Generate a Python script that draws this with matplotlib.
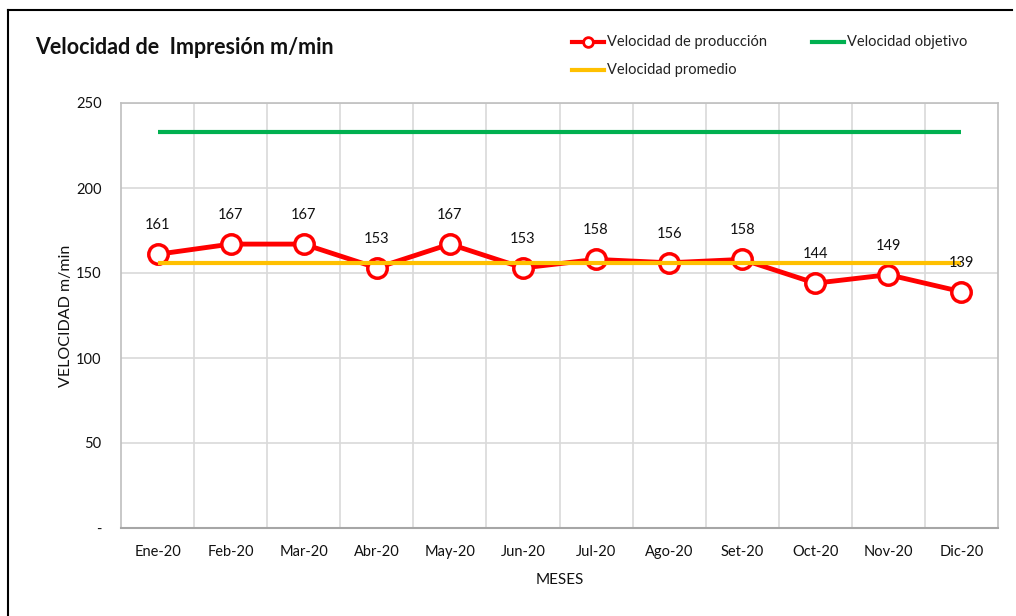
import matplotlib
matplotlib.use("Agg")
import matplotlib.pyplot as plt
from matplotlib.lines import Line2D

months = ["Ene-20", "Feb-20", "Mar-20", "Abr-20", "May-20", "Jun-20",
          "Jul-20", "Ago-20", "Set-20", "Oct-20", "Nov-20", "Dic-20"]
produccion = [161, 167, 167, 153, 167, 153, 158, 156, 158, 144, 149, 139]
objetivo = [233] * 12
promedio = [156] * 12
yticks = [0, 50, 100, 150, 200, 250]
ytick_labels = ["-", "50", "100", "150", "200", "250"]

plt.rcParams['font.family'] = ['Lato', 'DejaVu Sans']
W, H = 1016, 616
fig = plt.figure(figsize=(W / 100, H / 100), dpi=100)
ax = fig.add_axes([121 / W, 1 - 528 / H, (998 - 121) / W, (528 - 103) / H])

x = list(range(len(months)))
ax.plot(x, objetivo, color="#00B050", lw=3, zorder=3, solid_capstyle='butt')
ax.plot(x, produccion, color="#FF0000", lw=3.5, marker='o', markersize=14,
        markerfacecolor='white', markeredgecolor='#FF0000', markeredgewidth=2.5, zorder=4)
ax.plot(x, promedio, color="#FFC000", lw=3, zorder=5, solid_capstyle='butt')

for xi, v in zip(x, produccion):
    ax.annotate(str(v), (xi, v), xytext=(0, 21), textcoords='offset points',
                ha='center', va='center', fontsize=10.5, color='#111111', zorder=6)

ax.set_xlim(-0.5, len(months) - 0.5)
ax.set_ylim(0, 250)
ax.set_yticks(yticks)
ax.set_yticklabels(ytick_labels)
ax.set_xticks(x)
ax.set_xticklabels(months)
ax.tick_params(axis='both', length=0, labelsize=10.5, colors='#111111')
ax.tick_params(axis='y', pad=14)
ax.tick_params(axis='x', pad=12)

for k in range(1, len(months)):
    ax.axvline(k - 0.5, color='#D9D9D9', lw=1.2, zorder=1)
for yv in yticks[1:]:
    ax.axhline(yv, color='#D9D9D9', lw=1.2, zorder=1)

for s in ['left', 'right', 'top']:
    ax.spines[s].set_color('#BFBFBF')
    ax.spines[s].set_linewidth(1.2)
ax.spines['bottom'].set_color('#A6A6A6')
ax.spines['bottom'].set_linewidth(1.5)

ax.set_ylabel("VELOCIDAD m/min", fontsize=11.5, color='#111111', labelpad=2)
ax.set_xlabel("MESES", fontsize=11, color='#111111', labelpad=10)

fig.text(35 / W, 1 - 48 / H, "Velocidad de  Impresión m/min", fontsize=15.5,
         fontweight='bold', ha='left', va='center', color='#111111')

# legend (drawn manually to match layout)
def leg_item(x0, y0, color, text, marker=False):
    ln = Line2D([x0 / W, (x0 + 32) / W], [1 - y0 / H, 1 - y0 / H], color=color, lw=3,
                transform=fig.transFigure)
    fig.add_artist(ln)
    if marker:
        mk = Line2D([(x0 + 16) / W], [1 - y0 / H], marker='o', markersize=7,
                    markerfacecolor='white', markeredgecolor=color, markeredgewidth=2,
                    transform=fig.transFigure)
        fig.add_artist(mk)
    fig.text((x0 + 35) / W, 1 - y0 / H, text, fontsize=10.5, ha='left', va='center',
             color='#222222')

leg_item(572, 42, '#FF0000', 'Velocidad de producción', marker=True)
leg_item(812, 42, '#00B050', 'Velocidad objetivo')
leg_item(572, 70, '#FFC000', 'Velocidad promedio')

# outer frame lines (top and left)
fig.add_artist(Line2D([8 / W, 1012 / W], [1 - 10 / H, 1 - 10 / H], color='black', lw=1.5,
                      transform=fig.transFigure))
fig.add_artist(Line2D([8 / W, 8 / W], [1 - 10 / H, 0], color='black', lw=1.5,
                      transform=fig.transFigure))

fig.savefig("out.png", dpi=100)
